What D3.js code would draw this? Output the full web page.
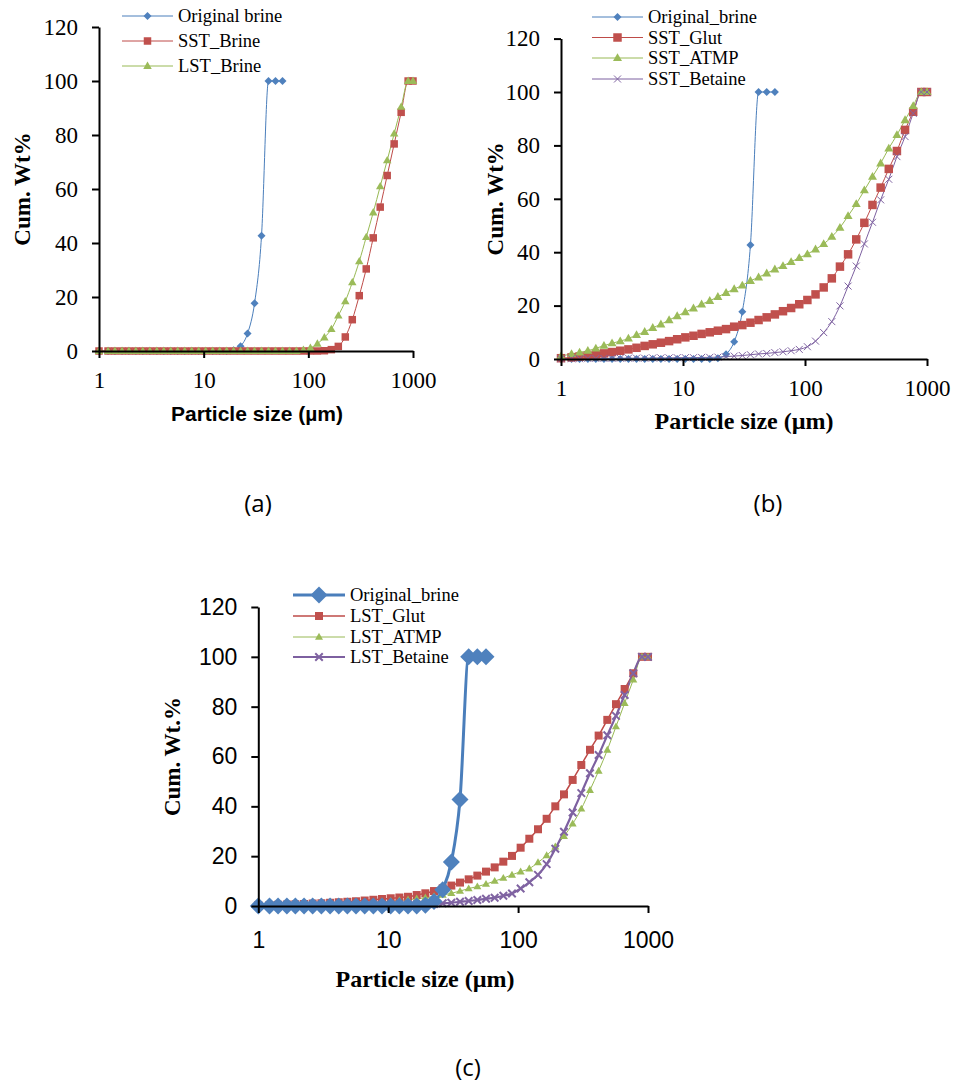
<!DOCTYPE html>
<html lang="en">

<head>
  <meta charset="UTF-8">
  <script src="https://d3js.org/d3.v7.min.js"></script>
  <title>cumulative particle size</title>
  <style>
    body { margin: 0; background: #fff; }
  </style>
</head>

<body>
</body>
<script>
  // particle size bins (µm), shared by every series
  let sizes = [1.0, 1.22, 1.42, 1.66, 1.93, 2.25, 2.62, 3.06, 3.57, 4.16,
    4.85, 5.65, 6.59, 7.69, 8.96, 10.45, 12.19, 14.21, 16.57, 19.32,
    22.53, 26.27, 30.63, 35.71, 41.64, 48.55, 56.61, 66.01, 76.97, 89.74,
    104.6, 122.0, 142.3, 165.9, 193.4, 225.5, 263.0, 306.6, 357.5, 416.9,
    486.1, 566.8, 660.9, 770.6, 898.5, 1000]

  let xTicks = [1, 10, 100, 1000]
  let yTicks = [0, 20, 40, 60, 80, 100, 120]

  // cumulative wt% (only the first 27 bins for the original brine)
  let originalBrine = [0, 0, 0, 0, 0, 0, 0, 0, 0, 0,
    0, 0, 0, 0, 0, 0, 0, 0, 0, 0.3,
    1.8, 6.5, 17.7, 42.7, 100, 100, 100]

  // panel (a)
  let sstBrine = [0, 0, 0, 0, 0, 0, 0, 0, 0, 0,
    0, 0, 0, 0, 0, 0, 0, 0, 0, 0,
    0, 0, 0, 0, 0, 0, 0, 0, 0, 0,
    0, 0, 0.1, 0.5, 1.7, 5.2, 11.6, 20.5, 30.4, 41.9,
    53.3, 65.0, 76.7, 88.4, 100, 100]
  let lstBrine = [0, 0, 0, 0, 0, 0, 0, 0, 0, 0,
    0, 0, 0, 0, 0, 0, 0, 0, 0, 0,
    0, 0, 0, 0, 0, 0, 0, 0, 0, 0.4,
    1.1, 2.7, 5.0, 8.1, 13.1, 18.4, 25.4, 33.2, 42.2, 51.3,
    61.0, 70.6, 80.5, 90.4, 100, 100]

  // panel (b)
  let sstGlut = [0.3, 0.6, 0.9, 1.2, 1.7, 2.1, 2.6, 3.1, 3.6, 4.2,
    4.9, 5.5, 6.1, 6.7, 7.4, 8.1, 8.7, 9.4, 10.0, 10.6,
    11.2, 12.1, 12.7, 13.6, 14.6, 15.6, 16.7, 17.9, 19.1, 20.5,
    22.1, 24.2, 26.8, 30.2, 34.6, 39.2, 44.8, 51.0, 57.7, 64.2,
    71.2, 77.9, 85.8, 92.6, 100, 100]
  let sstAtmp = [1.1, 1.9, 2.5, 3.1, 4.0, 5.0, 5.9, 6.7, 7.7, 9.0,
    10.2, 11.7, 13.0, 14.6, 16.1, 17.6, 19.0, 20.5, 21.8, 23.3,
    24.8, 26.2, 27.6, 29.3, 30.6, 32.1, 33.6, 34.9, 36.4, 37.9,
    39.3, 41.1, 43.1, 45.8, 49.2, 53.6, 58.1, 63.2, 68.3, 73.3,
    78.9, 83.9, 89.5, 94.8, 100, 100]
  let sstBetaine = [0.1, 0.1, 0.1, 0.2, 0.2, 0.2, 0.2, 0.3, 0.3, 0.3,
    0.3, 0.4, 0.4, 0.4, 0.5, 0.5, 0.5, 0.6, 0.6, 0.7,
    0.9, 1.1, 1.3, 1.6, 1.9, 2.1, 2.4, 2.7, 3.1, 3.6,
    4.6, 6.7, 9.9, 14.0, 19.9, 27.3, 34.8, 43.1, 51.2, 59.6,
    67.3, 75.8, 83.3, 92.0, 100, 100]

  // panel (c)
  let lstGlut = [0.3, 0.4, 0.5, 0.6, 0.7, 0.8, 1.0, 1.1, 1.3, 1.5,
    1.7, 1.9, 2.2, 2.5, 2.8, 3.1, 3.4, 3.7, 4.4, 5.1,
    6.0, 7.1, 8.2, 9.4, 10.7, 12.2, 13.8, 15.5, 17.8, 20.1,
    23.4, 27.0, 30.8, 35.0, 40.0, 44.8, 50.6, 56.6, 62.7, 68.4,
    74.7, 81.0, 87.1, 93.4, 100, 100]
  let lstAtmp = [0.1, 0.1, 0.2, 0.2, 0.3, 0.4, 0.5, 0.6, 0.7, 0.9,
    1.0, 1.1, 1.3, 1.5, 1.7, 1.9, 2.2, 2.5, 2.9, 3.3,
    3.8, 4.4, 5.1, 6.0, 7.0, 7.8, 8.8, 10.0, 11.2, 12.5,
    13.8, 15.0, 17.5, 20.3, 23.8, 28.0, 33.0, 39.0, 46.5, 54.2,
    62.6, 72.0, 81.4, 90.8, 100, 100]
  let lstBetaine = [0, 0, 0.1, 0.1, 0.1, 0.1, 0.2, 0.2, 0.2, 0.2,
    0.3, 0.3, 0.3, 0.4, 0.4, 0.4, 0.5, 0.5, 0.6, 0.7,
    0.8, 1.1, 1.3, 1.7, 2.0, 2.4, 2.9, 3.3, 4.1, 5.0,
    7.0, 9.5, 12.5, 16.8, 23.0, 29.8, 37.5, 45.3, 53.3, 60.6,
    68.5, 76.3, 84.7, 93.4, 100, 100]

  let width = 956
  let height = 1089

  const serif = '"Liberation Serif", "Times New Roman", serif'
  const sans = '"Liberation Sans", Arial, sans-serif'

  let blue = { fill: '#4F81BD', line: '#4A7EBB' }
  let red = { fill: '#C0504D', line: '#BE4B48' }
  let green = { fill: '#9BBB59', line: '#98B954' }
  let purple = { fill: '#8064A2', line: '#7D60A0' }

  let svg = d3.select('body')
    .append('svg')
    .attr('width', width)
    .attr('height', height)
    .style('background', '#fff')

  // marker shapes, s = full width in px
  function markerPath(type, s) {
    let h = s / 2
    if (type === 'square') return `M${-h},${-h}h${s}v${s}h${-s}Z`
    if (type === 'diamond') return `M0,${-h}L${h},0L0,${h}L${-h},0Z`
    if (type === 'triangle') {
      let t = s * 0.866
      return `M0,${-t * 0.6}L${h},${t * 0.4}L${-h},${t * 0.4}Z`
    }
    return `M${-h},${-h}L${h},${h}M${-h},${h}L${h},${-h}`
  }

  function drawMarker(g, s, cx, cy) {
    let m = g.append('path')
      .attr('transform', `translate(${cx},${cy})`)
      .attr('d', markerPath(s.marker, s.ms))
    if (s.marker === 'cross') {
      m.attr('fill', 'none').attr('stroke', s.color.fill).attr('stroke-width', s.mw || 1)
    } else {
      m.attr('fill', s.color.fill)
    }
  }

  function drawPanel(p) {
    let x = d3.scaleLog().domain([1, 1000]).range([p.left, p.right])
    let y = d3.scaleLinear().domain([0, 120]).range([p.bottom, p.top])
    let g = svg.append('g')

    // lines first, then markers, in drawing order
    let line = d3.line()
      .x(d => x(d[0]))
      .y(d => y(d[1]))
      .curve(d3.curveMonotoneX)

    p.order.forEach(i => {
      let s = p.series[i]
      let pts = s.values.map((v, k) => [sizes[k], v])
      g.append('path')
        .attr('d', line(pts))
        .attr('fill', 'none')
        .attr('stroke', s.color.line)
        .attr('stroke-width', s.lw)
    })
    p.order.forEach(i => {
      let s = p.series[i]
      s.values.forEach((v, k) => drawMarker(g, s, x(sizes[k]), y(v)))
    })

    // axes
    let yAxis = d3.axisLeft(y)
      .tickValues(yTicks)
      .tickSize(7)
      .tickSizeOuter(0)
      .tickPadding(p.yPad)
    let ya = g.append('g')
      .attr('transform', `translate(${p.left},0)`)
      .call(yAxis)

    let xAxis = d3.axisBottom(x)
      .tickValues(xTicks)
      .tickFormat(d3.format('d'))
      .tickSize(7)
      .tickSizeOuter(0)
      .tickPadding(p.xPad)
    let xa = g.append('g')
      .attr('transform', `translate(0,${p.bottom})`)
      .call(xAxis)

    ;[ya, xa].forEach(a => {
      a.attr('font-family', p.tickFont).attr('font-size', 23)
      a.select('.domain').attr('stroke', '#000').attr('stroke-width', 2)
      a.selectAll('.tick line').attr('stroke', '#000').attr('stroke-width', 2)
      a.selectAll('.tick text')
        .attr('fill', '#000')
        .style('font-family', p.tickFont)
        .style('font-size', '23px')
    })

    // axis titles
    g.append('text')
      .attr('transform', `translate(${p.yTitleX},${(p.top + p.bottom) / 2}) rotate(-90)`)
      .attr('text-anchor', 'middle')
      .style('font-family', serif)
      .style('font-weight', 'bold')
      .style('font-size', '23px')
      .text(p.yTitle)

    g.append('text')
      .attr('x', p.xTitleX)
      .attr('y', p.xTitleY)
      .attr('text-anchor', 'middle')
      .style('font-family', p.xTitleFont)
      .style('font-weight', 'bold')
      .style('font-size', p.xTitleSize)
      .text('Particle size (µm)')

    // legend
    p.series.forEach((s, i) => {
      let ly = p.legend.y[i]
      g.append('line')
        .attr('x1', p.legend.x1).attr('x2', p.legend.x2)
        .attr('y1', ly).attr('y2', ly)
        .attr('stroke', s.color.line)
        .attr('stroke-width', s.lw)
      drawMarker(g, s, (p.legend.x1 + p.legend.x2) / 2, ly)
      g.append('text')
        .attr('x', p.legend.x2 + 5)
        .attr('y', ly + 6)
        .style('font-family', serif)
        .style('font-size', '18.5px')
        .text(s.name)
    })

    // caption
    svg.append('text')
      .attr('x', p.cap[0])
      .attr('y', p.cap[1])
      .attr('text-anchor', 'middle')
      .style('font-family', '"Open Sans", sans-serif')
      .style('font-size', '24px')
      .text(p.cap[2])
  }

  drawPanel({
    left: 99, right: 413, top: 27, bottom: 351,
    yPad: 14, xPad: 14, tickFont: serif,
    yTitle: 'Cum. Wt%', yTitleX: 30,
    xTitleX: 257, xTitleY: 421, xTitleFont: sans, xTitleSize: '21px',
    legend: { x1: 122, x2: 173, y: [16, 41, 66] },
    cap: [258, 512, '(a)'],
    order: [0, 1, 2],
    series: [
      { name: 'Original brine', values: originalBrine, color: blue, lw: 1, marker: 'diamond', ms: 8 },
      { name: 'SST_Brine', values: sstBrine, color: red, lw: 1, marker: 'square', ms: 7.5 },
      { name: 'LST_Brine', values: lstBrine, color: green, lw: 1, marker: 'triangle', ms: 8.5 }
    ]
  })

  drawPanel({
    left: 561, right: 927, top: 38.6, bottom: 359,
    yPad: 14, xPad: 14, tickFont: serif,
    yTitle: 'Cum. Wt%', yTitleX: 503,
    xTitleX: 744, xTitleY: 429, xTitleFont: serif, xTitleSize: '24px',
    legend: { x1: 592, x2: 643, y: [17, 37.5, 58, 79] },
    cap: [768, 512, '(b)'],
    order: [0, 1, 2, 3],
    series: [
      { name: 'Original_brine', values: originalBrine, color: blue, lw: 1, marker: 'diamond', ms: 8 },
      { name: 'SST_Glut', values: sstGlut, color: red, lw: 1, marker: 'square', ms: 8.5 },
      { name: 'SST_ATMP', values: sstAtmp, color: green, lw: 1, marker: 'triangle', ms: 9 },
      { name: 'SST_Betaine', values: sstBetaine, color: purple, lw: 1, marker: 'cross', ms: 7, mw: 1 }
    ]
  })

  drawPanel({
    left: 258.3, right: 648, top: 607, bottom: 906,
    yPad: 14, xPad: 19, tickFont: sans,
    yTitle: 'Cum. Wt.%', yTitleX: 180,
    xTitleX: 425, xTitleY: 987, xTitleFont: serif, xTitleSize: '24px',
    legend: { x1: 293, x2: 345, y: [595, 616, 637, 657] },
    cap: [468, 1076, '(c)'],
    order: [1, 2, 3, 0],
    series: [
      { name: 'Original_brine', values: originalBrine, color: blue, lw: 3, marker: 'diamond', ms: 17 },
      { name: 'LST_Glut', values: lstGlut, color: red, lw: 1.5, marker: 'square', ms: 8 },
      { name: 'LST_ATMP', values: lstAtmp, color: green, lw: 1, marker: 'triangle', ms: 8 },
      { name: 'LST_Betaine', values: lstBetaine, color: purple, lw: 2.2, marker: 'cross', ms: 7.5, mw: 2 }
    ]
  })
</script>

</html>
